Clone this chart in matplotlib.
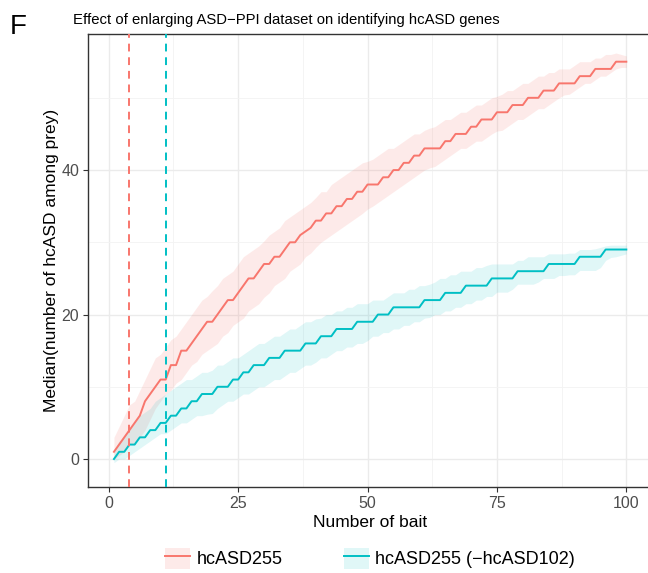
import matplotlib.pyplot as plt
from matplotlib.patches import Patch
from matplotlib.lines import Line2D

plt.rcParams['font.family'] = ['Liberation Sans', 'DejaVu Sans']

RED = '#F8766D'
CYAN = '#00BFC4'

n_bait = list(range(1, 101))

# median hcASD among prey, hcASD255
red_median = [
    1, 2, 3, 4, 5, 6, 8, 9, 10, 11,
    11, 13, 13, 15, 15, 16, 17, 18, 19, 19,
    20, 21, 22, 22, 23, 24, 25, 25, 26, 27,
    27, 28, 28, 29, 30, 30, 31, 31.5, 32, 33,
    33, 34, 34, 35, 35, 36, 36, 37, 37, 38,
    38, 38, 39, 39, 40, 40, 41, 41, 42, 42,
    43, 43, 43, 43, 44, 44, 45, 45, 45, 46,
    46, 47, 47, 47, 48, 48, 48, 49, 49, 49,
    50, 50, 50, 51, 51, 51, 52, 52, 52, 52,
    53, 53, 53, 54, 54, 54, 54, 55, 55, 55,
]
red_upper = [
    3, 4.5, 6, 7.5, 8, 9.5, 11, 12.5, 14, 14.5,
    15.5, 16.5, 17, 18, 19, 20, 21, 22, 22.5, 23.3,
    24, 25, 25.5, 26, 27, 28, 28.5, 29, 29.5, 30.2,
    31, 31.5, 32, 33, 33.5, 34, 34.5, 35, 35.5, 36.2,
    37, 37, 38, 38.5, 39, 39.5, 40, 40.5, 41, 41.2,
    41.5, 42, 42.5, 43, 43, 43.5, 44, 44.5, 45, 45,
    45.5, 45.8, 46, 46.5, 47, 47, 47.5, 48, 48, 48.5,
    49, 49, 49.5, 50, 50.2, 50.5, 51, 51, 51.5, 52,
    52, 52.5, 53, 53, 53.5, 53.5, 54, 54, 54, 54.5,
    55, 55, 55, 55.5, 55.5, 56, 56, 56.2, 56, 55.8,
]
red_lower = [
    0, 0.5, 1, 2, 2.2, 3, 4, 5.5, 7, 8,
    9, 9.5, 10.5, 11, 12, 13, 13.5, 14.5, 15, 15.5,
    16, 17, 17.5, 18.5, 19, 19.5, 20.5, 21, 21.5, 22.4,
    23, 24, 24.5, 25, 26, 26.5, 27, 28, 28.5, 29.3,
    30, 30.5, 31, 31.5, 32, 32.5, 33, 33.5, 34, 34.6,
    35, 35.5, 36, 36.5, 37, 37.5, 38, 38.5, 39, 39.5,
    40, 40.3, 40.5, 41, 41.5, 42, 42.5, 43, 43, 43.5,
    44, 44, 44.5, 45, 45.4, 45.5, 46, 46.5, 47, 47,
    47.5, 48, 48.5, 48.5, 49, 49.5, 50, 50.4, 50.5, 51,
    51.5, 52, 52, 52.5, 53, 53, 53.5, 54, 54.2, 54.2,
]

# hcASD255 (-hcASD102)
cyan_median = [
    0, 1, 1, 2, 2, 3, 3, 4, 4, 5,
    5, 6, 6, 7, 7, 8, 8, 9, 9, 9,
    10, 10, 10, 11, 11, 12, 12, 13, 13, 13,
    14, 14, 14, 15, 15, 15, 15, 16, 16, 16,
    17, 17, 17, 18, 18, 18, 18, 19, 19, 19,
    19, 20, 20, 20, 21, 21, 21, 21, 21, 21,
    22, 22, 22, 22, 23, 23, 23, 23, 24, 24,
    24, 24, 24, 25, 25, 25, 25, 25, 26, 26,
    26, 26, 26, 26, 27, 27, 27, 27, 27, 27,
    28, 28, 28, 28, 28, 29, 29, 29, 29, 29,
]
cyan_upper = [
    1.2, 2.5, 3, 4, 5, 6, 6.5, 7, 8, 8.5,
    9, 9.5, 10, 10.5, 11, 11, 11.5, 12, 12, 12.3,
    13, 13, 13.5, 14, 14, 14.5, 15, 15.5, 16, 16,
    16.5, 17, 17, 17.5, 18, 18, 18.5, 19, 19, 19.4,
    19.5, 20, 20, 20.5, 20.5, 21, 21, 21.5, 21.5, 21.5,
    22, 22, 22, 22.5, 23, 23, 23, 23.5, 23.5, 24,
    24, 24.2, 24.5, 25, 25, 25.5, 25.5, 26, 26, 26,
    26.5, 26.5, 26.8, 27, 27, 27, 27, 27, 27.5, 27.5,
    28, 28, 28, 28, 28.4, 28.4, 28.4, 28.4, 28.5, 28.5,
    29, 29, 29, 29.1, 29.3, 29.5, 29.6, 29.6, 29.6, 29.6,
]
cyan_lower = [
    -0.5, 0, 0, 0.5, 1, 1.5, 2, 2.5, 3, 3.5,
    3.5, 4, 4.5, 5, 5, 5.5, 6, 6, 6.2, 6.3,
    7, 7.5, 8, 8, 8.5, 9, 9, 9.5, 10, 10,
    10.5, 11, 11, 11.5, 12, 12, 12.5, 13, 13, 13.4,
    14, 14, 14.5, 15, 15, 15.5, 15.5, 16, 16, 16.4,
    17, 17, 17.5, 17.5, 18, 18, 18.5, 18.5, 19, 19,
    19.5, 19.6, 20, 20, 20.5, 20.5, 21, 21, 21.5, 21.5,
    22, 22, 22.5, 22.5, 23.1, 23.1, 23.1, 23.5, 24.2, 24.2,
    24.2, 24.2, 24.5, 25, 25, 25, 25.4, 25.4, 25.5, 25.5,
    26.1, 26.1, 26.1, 26.1, 26.5, 27.5, 27.9, 28, 28.2, 28.4,
]

# number of baits marked by dashed lines
red_cut = 4
cyan_cut = 11

series = [
    ('hcASD255', red_median, red_lower, red_upper, RED, red_cut, 0.15),
    ('hcASD255 (\u2212hcASD102)', cyan_median, cyan_lower, cyan_upper, CYAN, cyan_cut, 0.12),
]

fig = plt.figure(figsize=(6.48, 5.73), dpi=100)
ax = fig.add_axes([0.1363, 0.150, 0.8698, 0.7915])

handles = []
for name, med, lo, hi, col, cut, alpha in series:
    ax.fill_between(n_bait, lo, hi, color=col, alpha=alpha, lw=0, zorder=2)
    ax.plot(n_bait, med, color=col, lw=1.4, zorder=3)
    ax.axvline(cut, color=col, lw=1.4, ls=(0, (4, 3)), zorder=4)
    handles.append((Patch(facecolor=col, alpha=alpha, edgecolor='none'),
                    Line2D([], [], color=col, lw=1.4)))

ax.set_xlim(-3.95, 104.95)
ax.set_ylim(-3.88, 58.9)
ax.set_xticks([0, 25, 50, 75, 100])
ax.set_yticks([0, 20, 40])
ax.set_xticks([12.5, 37.5, 62.5, 87.5], minor=True)
ax.set_yticks([10, 30, 50], minor=True)
ax.grid(which='major', color='#EBEBEB', lw=1.0, zorder=0)
ax.grid(which='minor', color='#F3F3F3', lw=0.6, zorder=0)
ax.set_axisbelow(True)
ax.tick_params(which='major', length=3.5, width=0.8, color='#333333',
               labelcolor='#4D4D4D', labelsize=11.5, pad=3)
ax.tick_params(which='minor', length=0)
for s in ax.spines.values():
    s.set_color('#333333')
    s.set_linewidth(1.0)

ax.set_xlabel('Number of bait', fontsize=12.5, labelpad=3)
ax.set_ylabel('Median(number of hcASD among prey)', fontsize=12.5, labelpad=2)
ax.set_title('Effect of enlarging ASD\u2212PPI dataset on identifying hcASD genes',
             fontsize=10.7, loc='left', x=-0.028, pad=7)

fig.text(0.015, 0.975, 'F', fontsize=20, va='top', ha='left')

fig.legend(handles, [s[0] for s in series], loc='center', ncol=2,
           bbox_to_anchor=(0.571, 0.026), frameon=False, fontsize=13,
           handlelength=1.4, handleheight=1.4, columnspacing=3.4,
           handletextpad=0.35)

fig.savefig('out.png', dpi=100)
